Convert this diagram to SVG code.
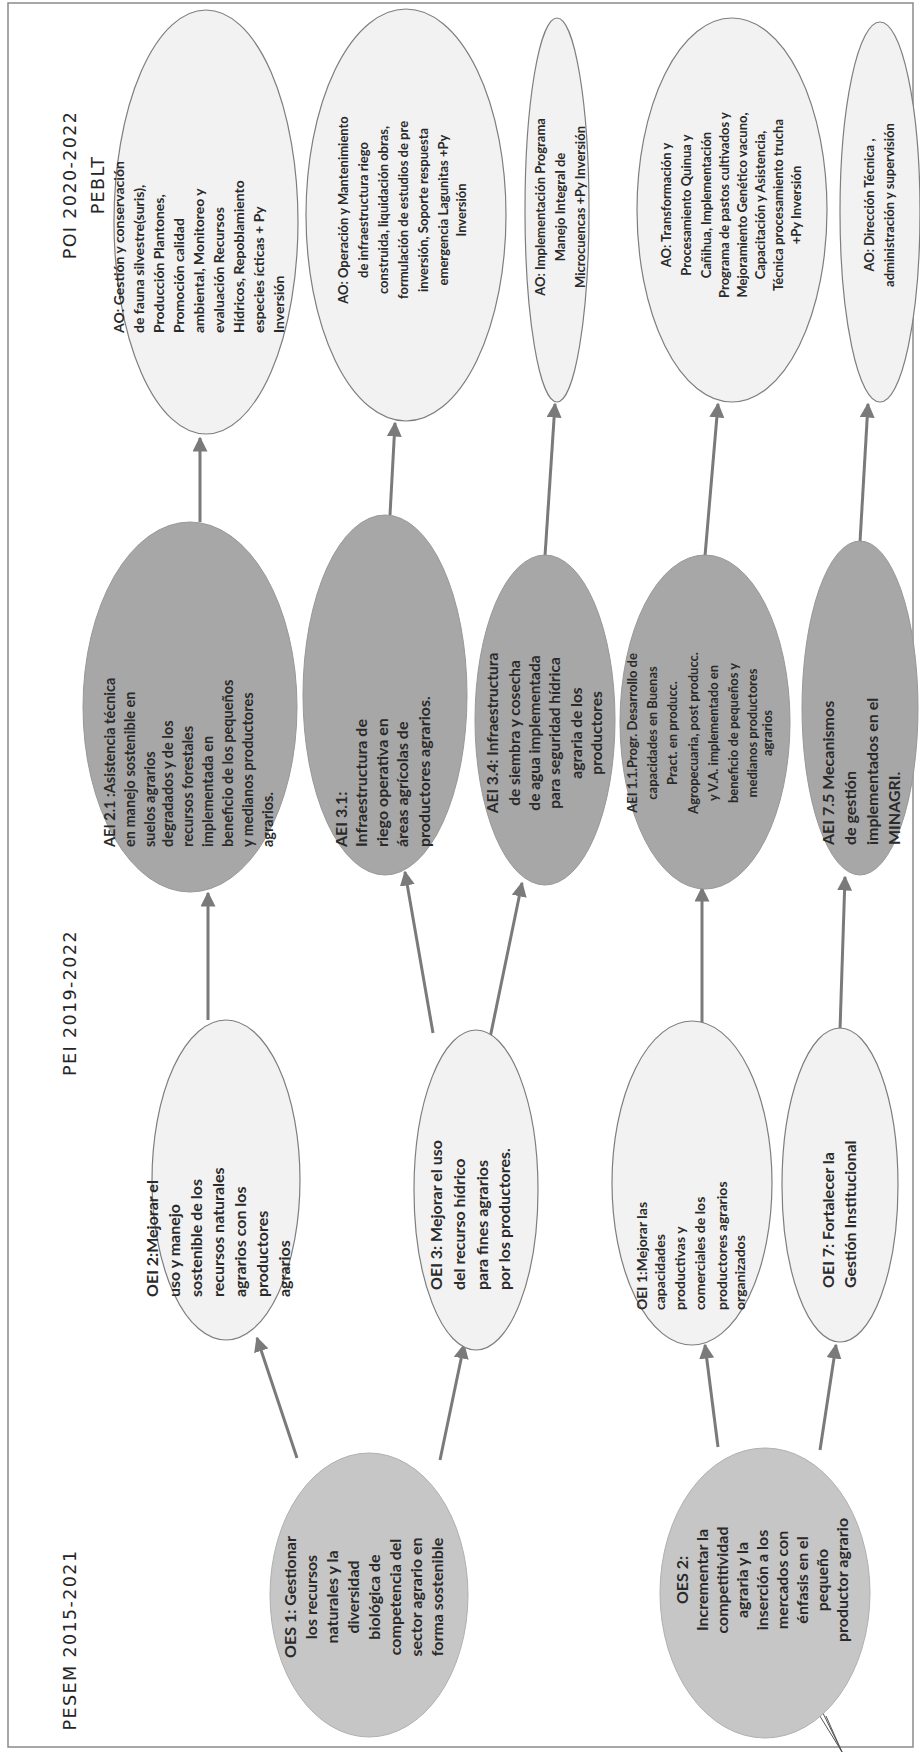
<svg xmlns="http://www.w3.org/2000/svg" width="920" height="1752" viewBox="0 0 920 1752">
<defs>
<marker id="ah" viewBox="0 0 10 10" refX="9" refY="5" markerWidth="5" markerHeight="5" orient="auto-start-reverse"><path d="M0,0 L10,5 L0,10 z" fill="#7a7a7a"/></marker>
<style>
.t{font-family:Lato,"Open Sans","Liberation Sans",sans-serif;font-weight:bold;font-size:14.5px;fill:#2a2a2a}
.h{font-family:"DejaVu Sans","Liberation Sans",sans-serif;font-size:17.5px;fill:#262626;letter-spacing:1.4px}
.l{fill:#f2f2f2;stroke:#7e7e7e;stroke-width:1.2}
.m{fill:#c6c6c6;stroke:#b0b0b0;stroke-width:1}
.d{fill:#a7a7a7;stroke:#989898;stroke-width:1}
.c{stroke:#7a7a7a;stroke-width:3;fill:none;marker-end:url(#ah)}
.s{stroke:#555;stroke-width:1;fill:none}
</style>
</defs>
<rect x="8" y="3" width="905" height="1744" fill="#fff" stroke="#8a8a8a" stroke-width="1.5"/>
<g id="connectors">
<line class="c" x1="297" y1="1458" x2="257" y2="1338"/>
<line class="c" x1="440" y1="1460" x2="464" y2="1345"/>
<line class="c" x1="718" y1="1447" x2="705" y2="1345"/>
<line class="c" x1="820" y1="1450" x2="836" y2="1345"/>
<line class="c" x1="208" y1="1020" x2="208" y2="893"/>
<line class="c" x1="433" y1="1033" x2="405" y2="872"/>
<line class="c" x1="490" y1="1038" x2="522" y2="883"/>
<line class="c" x1="702" y1="1023" x2="702" y2="888"/>
<line class="c" x1="840" y1="1030" x2="845" y2="877"/>
<line class="c" x1="200" y1="522" x2="200" y2="438"/>
<line class="c" x1="390" y1="515" x2="395" y2="423"/>
<line class="c" x1="545" y1="556" x2="555" y2="404"/>
<line class="c" x1="705" y1="556" x2="718" y2="404"/>
<line class="c" x1="860" y1="542" x2="868" y2="404"/>
<path class="s" d="M810,1700 L842,1752 M819,1705 L842,1752 M826,1716 L842,1752"/>
</g>
<g id="ao-gestion"><ellipse class="l" cx="206" cy="222" rx="92" ry="212"/>
<g transform="translate(206,333) rotate(-90)"><text class="t" style="font-size:14px">
<tspan x="0" y="-82">AO: Gestión y conservación</tspan><tspan x="0" y="-62">de fauna  silvestre(suris),</tspan><tspan x="0" y="-42">Producción  Plantones,</tspan><tspan x="0" y="-22">Promoción calidad</tspan><tspan x="0" y="-2">ambiental, Monitoreo y</tspan><tspan x="0" y="18">evaluación  Recursos</tspan><tspan x="0" y="38">Hídricos, Repoblamiento</tspan><tspan x="0" y="58">especies ícticas + Py</tspan><tspan x="0" y="78">Inversión</tspan></text></g></g>
<g id="ao-operacion"><ellipse class="l" cx="406" cy="215" rx="100" ry="206"/>
<g transform="translate(406,210) rotate(-90)"><text class="t" text-anchor="middle" style="font-size:13px">
<tspan x="0" y="-58">AO: Operación y Mantenimiento</tspan><tspan x="0" y="-38">de infraestructura riego</tspan><tspan x="0" y="-18">construida, liquidación obras,</tspan><tspan x="0" y="2">formulación de estudios de pre</tspan><tspan x="0" y="22">inversión, Soporte respuesta</tspan><tspan x="0" y="42">emergencia Lagunitas +Py</tspan><tspan x="0" y="60">Inversión</tspan></text></g></g>
<g id="ao-implementacion"><ellipse class="l" cx="557" cy="210" rx="32" ry="192"/>
<g transform="translate(557,207) rotate(-90)"><text class="t" text-anchor="middle" style="font-size:13px">
<tspan x="0" y="-12">AO: Implementación Programa</tspan><tspan x="0" y="8">Manejo Integral de</tspan><tspan x="0" y="28">Microcuencas +Py Inversión</tspan></text></g></g>
<g id="ao-transformacion"><ellipse class="l" cx="732" cy="210" rx="95" ry="192"/>
<g transform="translate(732,205) rotate(-90)"><text class="t" text-anchor="middle" style="font-size:13px">
<tspan x="0" y="-61">AO: Transformación  y</tspan><tspan x="0" y="-41">Procesamiento Quinua y</tspan><tspan x="0" y="-21">Cañihua, Implementación</tspan><tspan x="0" y="-3">Programa de pastos cultivados y</tspan><tspan x="0" y="15">Mejoramiento Genético vacuno,</tspan><tspan x="0" y="33">Capacitación y Asistencia,</tspan><tspan x="0" y="51">Técnica procesamiento trucha</tspan><tspan x="0" y="69">+Py  Inversión</tspan></text></g></g>
<g id="ao-direccion"><ellipse class="l" cx="880" cy="212" rx="40" ry="190"/>
<g transform="translate(880,205) rotate(-90)"><text class="t" text-anchor="middle" style="font-size:13px">
<tspan x="0" y="-6">AO: Dirección Técnica ,</tspan><tspan x="0" y="14">administración y supervisión</tspan></text></g></g>
<g id="aei-2-1"><ellipse class="d" cx="190" cy="707" rx="107" ry="185"/>
<g transform="translate(190,847) rotate(-90)"><text class="t">
<tspan x="0" y="-75">AEI 2.1 :Asistencia técnica</tspan><tspan x="0" y="-55">en manejo sostenible  en</tspan><tspan x="0" y="-35">suelos agrarios</tspan><tspan x="0" y="-17">degradados y de los</tspan><tspan x="0" y="3">recursos forestales</tspan><tspan x="0" y="23">implementada en</tspan><tspan x="0" y="43">beneficio de los pequeños</tspan><tspan x="0" y="63">y medianos productores</tspan><tspan x="0" y="83">agrarios.</tspan></text></g></g>
<g id="aei-3-1"><ellipse class="d" cx="385" cy="695" rx="82" ry="180"/>
<g transform="translate(385,847) rotate(-90)"><text class="t" style="font-size:16px">
<tspan x="0" y="-38">AEI 3.1:</tspan><tspan x="0" y="-18">Infraestructura de</tspan><tspan x="0" y="3">riego operativa en</tspan><tspan x="0" y="23">áreas agrícolas de</tspan><tspan x="0" y="45">productores agrarios.</tspan></text></g></g>
<g id="aei-3-4"><ellipse class="d" cx="545" cy="720" rx="70" ry="165"/>
<g transform="translate(545,733) rotate(-90)"><text class="t" text-anchor="middle" style="font-size:15.5px">
<tspan x="0" y="-47">AEI 3.4: Infraestructura</tspan><tspan x="0" y="-25">de siembra y cosecha</tspan><tspan x="0" y="-5">de agua implementada</tspan><tspan x="0" y="15">para seguridad hídrica</tspan><tspan x="0" y="37">agraria de los</tspan><tspan x="0" y="57">productores</tspan></text></g></g>
<g id="aei-1-1"><ellipse class="d" cx="705" cy="722" rx="85" ry="167"/>
<g transform="translate(705,733) rotate(-90)"><text class="t" text-anchor="middle" style="font-size:13px">
<tspan x="0" y="-68">AEI 1.1.Progr. Desarrollo de</tspan><tspan x="0" y="-48">capacidades en Buenas</tspan><tspan x="0" y="-28">Pract. en producc.</tspan><tspan x="0" y="-7">Agropecuaria,  post producc.</tspan><tspan x="0" y="13">y V.A. implementado en</tspan><tspan x="0" y="33">beneficio de pequeños y</tspan><tspan x="0" y="52">medianos productores</tspan><tspan x="0" y="67">agrarios</tspan></text></g></g>
<g id="aei-7-5"><ellipse class="d" cx="860" cy="708" rx="58" ry="167"/>
<g transform="translate(860,845) rotate(-90)"><text class="t" style="font-size:16px">
<tspan x="0" y="-26">AEI 7.5 Mecanismos</tspan><tspan x="0" y="-4">de gestión</tspan><tspan x="0" y="18">implementados en el</tspan><tspan x="0" y="40">MINAGRI.</tspan></text></g></g>
<g id="oei-2"><ellipse class="l" cx="226" cy="1180" rx="74" ry="160"/>
<g transform="translate(226,1297) rotate(-90)"><text class="t" style="font-size:16px">
<tspan x="0" y="-68">OEI 2:Mejorar el</tspan><tspan x="0" y="-46">uso y manejo</tspan><tspan x="0" y="-24">sostenible de los</tspan><tspan x="0" y="-2">recursos naturales</tspan><tspan x="0" y="20">agrarios con los</tspan><tspan x="0" y="42">productores</tspan><tspan x="0" y="64">agrarios</tspan></text></g></g>
<g id="oei-3"><ellipse class="l" cx="476" cy="1190" rx="62" ry="160"/>
<g transform="translate(476,1290) rotate(-90)"><text class="t" style="font-size:16px">
<tspan x="0" y="-34">OEI 3: Mejorar el uso</tspan><tspan x="0" y="-11">del recurso hídrico</tspan><tspan x="0" y="12">para  fines agrarios</tspan><tspan x="0" y="34">por los productores.</tspan></text></g></g>
<g id="oei-1"><ellipse class="l" cx="692" cy="1183" rx="80" ry="162"/>
<g transform="translate(692,1310) rotate(-90)"><text class="t" style="font-size:14px">
<tspan x="0" y="-45">OEI 1:Mejorar las</tspan><tspan x="0" y="-27">capacidades</tspan><tspan x="0" y="-7">productivas  y</tspan><tspan x="0" y="13">comerciales de los</tspan><tspan x="0" y="35">productores agrarios</tspan><tspan x="0" y="53">organizados</tspan></text></g></g>
<g id="oei-7"><ellipse class="l" cx="840" cy="1185" rx="58" ry="157"/>
<g transform="translate(840,1288) rotate(-90)"><text class="t" style="font-size:16px">
<tspan x="0" y="-6">OEI 7: Fortalecer la</tspan><tspan x="0" y="16">Gestión Institucional</tspan></text></g></g>
<g id="oes-1"><ellipse class="m" cx="369" cy="1595" rx="99" ry="142"/>
<g transform="translate(369,1597) rotate(-90)"><text class="t" text-anchor="middle" style="font-size:16px">
<tspan x="0" y="-73">OES 1: Gestionar</tspan><tspan x="0" y="-52">los recursos</tspan><tspan x="0" y="-31">naturales y la</tspan><tspan x="0" y="-10">diversidad</tspan><tspan x="0" y="11">biológica de</tspan><tspan x="0" y="32">competencia del</tspan><tspan x="0" y="53">sector agrario en</tspan><tspan x="0" y="74">forma sostenible</tspan></text></g></g>
<g id="oes-2"><ellipse class="m" cx="765" cy="1593" rx="105" ry="145"/>
<g transform="translate(765,1580) rotate(-90)"><text class="t" text-anchor="middle" style="font-size:16px">
<tspan x="0" y="-77">OES 2:</tspan><tspan x="0" y="-57">Incrementar la</tspan><tspan x="0" y="-37">competitividad</tspan><tspan x="0" y="-17">agraria y la</tspan><tspan x="0" y="3">inserción a los</tspan><tspan x="0" y="23">mercados con</tspan><tspan x="0" y="43">énfasis en el</tspan><tspan x="0" y="63">pequeño</tspan><tspan x="0" y="83">productor agrario</tspan></text></g></g>
<g id="headers">
<text class="h" transform="translate(76,1640) rotate(-90)" text-anchor="middle">PESEM 2015-2021</text>
<text class="h" transform="translate(76,1003) rotate(-90)" text-anchor="middle">PEI 2019-2022</text>
<text class="h" transform="translate(76,185) rotate(-90)" text-anchor="middle">POI 2020-2022</text>
<text class="h" transform="translate(104,185) rotate(-90)" text-anchor="middle">PEBLT</text>
</g>
</svg>
